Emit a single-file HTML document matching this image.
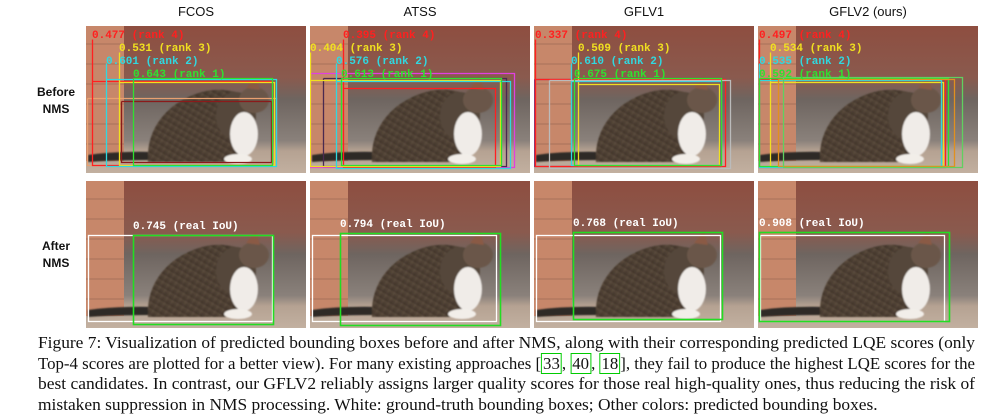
<!DOCTYPE html>
<html><head><meta charset="utf-8"><style>
body{margin:0;width:993px;height:419px;background:#fff;position:relative;overflow:hidden;font-family:"Liberation Sans",sans-serif}
.t{position:absolute;top:4px;width:220px;text-align:center;font-size:13px;color:#111}
.s{position:absolute;left:30px;width:52px;text-align:center;font-size:12px;font-weight:bold;line-height:17px;color:#111}
.cap{position:absolute;left:38px;width:937px;font-family:"Liberation Serif",serif;font-size:17px;color:#111}
.cap div{height:20.5px;line-height:20.5px;white-space:nowrap;transform-origin:0 50%;display:block;width:max-content}
.ref{border:1px solid #0c0;padding:0 1px}
</style></head><body>
<div class="t" style="left:86px">FCOS</div>
<div class="t" style="left:310px">ATSS</div>
<div class="t" style="left:534px">GFLV1</div>
<div class="t" style="left:758px">GFLV2 (ours)</div>
<div class="s" style="top:84px">Before<br>NMS</div>
<div class="s" style="top:238px">After<br>NMS</div>
<svg id="fig" width="993" height="335" style="position:absolute;left:0;top:0">
<defs>
<clipPath id="cp"><rect width="220" height="147"/></clipPath>
<filter id="bl"><feGaussianBlur stdDeviation="0.8"/></filter>
<linearGradient id="bg" x1="0" y1="0" x2="0" y2="1">
<stop offset="0" stop-color="#8e4e40"/><stop offset="0.35" stop-color="#8a5a4e"/><stop offset="0.5" stop-color="#6e6560"/><stop offset="0.78" stop-color="#8a817b"/><stop offset="0.85" stop-color="#b5a292"/><stop offset="1" stop-color="#c2b0a0"/></linearGradient>
<linearGradient id="cat" x1="0" y1="0" x2="1" y2="1"><stop offset="0" stop-color="#6b5a48"/><stop offset="1" stop-color="#3a2e25"/></linearGradient>
<pattern id="stripe" width="6" height="6" patternUnits="userSpaceOnUse" patternTransform="rotate(30)"><rect width="6" height="6" fill="url(#cat)"/><rect width="2" height="6" fill="#2a211b" opacity="0.3"/></pattern>
<g id="photo">
<rect width="220" height="147" fill="url(#bg)"/>
<rect x="0" y="0" width="38" height="135" fill="#c7876a"/>
<g stroke="#9a6a55" stroke-width="1" opacity="0.7">
<line x1="0" y1="18" x2="38" y2="18"/><line x1="0" y1="38" x2="38" y2="38"/><line x1="0" y1="58" x2="38" y2="58"/><line x1="0" y1="78" x2="38" y2="78"/><line x1="0" y1="98" x2="38" y2="98"/><line x1="0" y1="118" x2="38" y2="118"/></g>
<g filter="url(#bl)">
<path d="M2 129 Q30 125 70 126 L70 134 Q30 134 2 136Z" fill="#2e2a26"/>
<path d="M62 136 Q60 100 90 78 Q120 58 150 66 L165 100 L160 136Z" fill="url(#stripe)"/>
<ellipse cx="150" cy="90" rx="20" ry="24" fill="#54463a"/>
<ellipse cx="158" cy="108" rx="14" ry="22" fill="#f0ece8"/>
<ellipse cx="168" cy="74" rx="15" ry="13" fill="#6a5748"/>
<path d="M160 62 L170 50 L174 64Z" fill="#8a5a45"/>
<ellipse cx="152" cy="133" rx="14" ry="5" fill="#f2eee9"/>
</g>
</g>
</defs>
</svg>
<div class="cap" id="cap" style="top:333px">
<div>Figure 7: Visualization of predicted bounding boxes before and after NMS, along with their corresponding predicted LQE scores (only</div>
<div>Top-4 scores are plotted for a better view). For many existing approaches [<span class="ref">33</span>, <span class="ref">40</span>, <span class="ref">18</span>], they fail to produce the highest LQE scores for the</div>
<div>best candidates. In contrast, our GFLV2 reliably assigns larger quality scores for those real high-quality ones, thus reducing the risk of</div>
<div>mistaken suppression in NMS processing. White: ground-truth bounding boxes; Other colors: predicted bounding boxes.</div>
</div>
<script>
const NS="http://www.w3.org/2000/svg";
const svg=document.getElementById('fig');
const panelX=[86,310,534,758];
const rowY=[26,181];
const names=['fcos','atss','gflv1','gflv2'];
// before NMS boxes: [left, labelTop, right, bottom, color, boxTop]
const boxes=[
[[1,72,190,139,'#e8a070',72],[35,75,185,136,'#8b1a1a',75],[6,13,186,139,'#ff2020',55],[33,26,188,139,'#f0e020',56],[20,37,190,140,'#30d8e0',53],[47,52,186,139,'#30e030',52]],
[[0,72,204,141,'#e040e0',47],[13,77,196,140,'#4a2a50',52],[33,13,185,141,'#ff2020',62],[0,26,190,140,'#f0e020',54],[26,37,200,142,'#30d8e0',55],[31,52,191,139,'#30e030',52]],
[[0,78,186,140,'#7a3a7a',53],[1,13,191,140,'#ff2020',53],[44,26,185,139,'#f0e020',58],[37,37,187,139,'#30d8e0',55],[15,80,196,142,'#bbbbbb',54],[40,52,187,139,'#30e030',52]],
[[1,13,187,141,'#ff2020',53],[12,26,185,140,'#f0e020',56],[1,37,183,141,'#30d8e0',54],[1,52,190,140,'#30e030',52],[20,80,196,140,'#e09020',53],[25,78,204,141,'#60d060',51]]
];
const labelX=[[6,33,20,47],[33,0,26,31],[1,44,37,40],[1,12,1,1]];
const scores=[['0.477','0.531','0.601','0.643'],['0.395','0.404','0.576','0.613'],['0.337','0.509','0.610','0.675'],['0.497','0.534','0.535','0.592']];
const rankCol=['#ff2020','#f0e020','#30d8e0','#30e030'];
const ranks=['4','3','2','1'];
const iou=['0.745','0.794','0.768','0.908'];
const gX=[47,30,39,1], gY=[54,52,51,51], gW=[140,160,149,190], gH=[89,92,87,89];
function add(tag,attrs,parent){const e=document.createElementNS(NS,tag);for(const k in attrs)e.setAttribute(k,attrs[k]);(parent||svg).appendChild(e);return e;}
for(let r=0;r<2;r++)for(let p=0;p<4;p++){
 const g=add('g',{transform:`translate(${panelX[p]},${rowY[r]})`,'clip-path':'url(#cp)'});
 
 
 add('use',{href:'#photo'},g);
 if(r===0){
  boxes[p].forEach(b=>{const l=b[0]+0.5,lt=b[1]+0.5,rr=b[2]+0.5,bb=b[3]+0.5,t=b[5]+0.5;
   const e=add('path',{d:`M${l} ${Math.min(lt,t)} L${l} ${bb} L${rr} ${bb} L${rr} ${t} L${l} ${t}`,fill:'none',stroke:b[4],'stroke-width':1.3},g);
   });
  for(let k=0;k<4;k++){const t=add('text',{x:labelX[p][k],y:12+k*13,fill:rankCol[k],'font-family':'Liberation Mono, monospace','font-size':'11','font-weight':'bold'},g);
   t.textContent=scores[p][k]+' (rank '+ranks[k]+')';
   }
 } else {
  const w=add('rect',{x:2.5,y:54.5,width:184,height:86,fill:'none',stroke:'#fff','stroke-width':1.3},g);
  
  const gb=add('rect',{x:gX[p]+0.5,y:gY[p]+0.5,width:gW[p],height:gH[p],fill:'none',stroke:'#22dd22','stroke-width':1.6},g);
  
  const t=add('text',{x:gX[p],y:gY[p]-6,fill:'#fff','font-family':'Liberation Mono, monospace','font-size':'11','font-weight':'bold'},g);
  t.textContent=iou[p]+' (real IoU)';
  
 }
}
const lines=[...document.querySelectorAll('#cap div')];
let fs=[];
lines.forEach((d,i)=>{const w=d.getBoundingClientRect().width;fs.push(937/w);});
lines.forEach((d,i)=>{const f=i<3?fs[i]:fs[0];d.style.transform=`scaleX(${f})`;});
</script>
</body></html>
